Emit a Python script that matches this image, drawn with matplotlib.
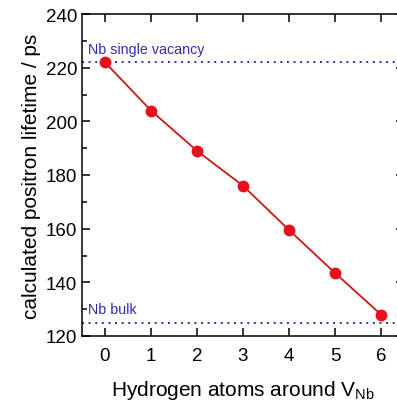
import matplotlib
matplotlib.use("Agg")
import matplotlib.pyplot as plt
from matplotlib.ticker import MultipleLocator

plt.rcParams['font.family'] = ['Liberation Sans', 'DejaVu Sans']

n_hydrogen = [0, 1, 2, 3, 4, 5, 6]
lifetime = [222, 204, 189, 176, 159.5, 143.5, 128]
vacancy_level = 222
bulk_level = 125
vacancy_label = "Nb single vacancy"
bulk_label = "Nb bulk"

fig = plt.figure(figsize=(3.97, 4.02), dpi=100)
W, H = 397, 402
ax = fig.add_axes([82 / W, 1 - 337 / H, (404 - 82) / W, (337 - 15) / H])

blue = '#2f2fa8'
ax.axhline(vacancy_level, color=blue, linestyle=(0, (1, 2.4)), lw=1.4)
ax.axhline(bulk_level, color=blue, linestyle=(0, (1, 2.4)), lw=1.4)
ax.plot(n_hydrogen, lifetime, color='#c81818', lw=1.3, marker='o', ms=7.5,
        markerfacecolor='#e8101a', markeredgecolor='#e8101a')

ax.text(-0.36, vacancy_level + 2.4, vacancy_label, color=blue, fontsize=10.3, va='bottom')
ax.text(-0.36, bulk_level + 2.4, bulk_label, color=blue, fontsize=10.3, va='bottom')

ax.set_xlim(-0.5, 6.5)
ax.set_ylim(120, 240)
ax.set_xticks(n_hydrogen)
ax.yaxis.set_major_locator(MultipleLocator(20))
ax.yaxis.set_minor_locator(MultipleLocator(10))
ax.tick_params(which='both', direction='in', top=True, right=True, labelsize=13.5, width=1.1)
ax.tick_params(which='major', length=6)
ax.tick_params(which='minor', length=3.5)
ax.tick_params(axis='x', pad=8)
for s in ax.spines.values():
    s.set_linewidth(1.1)

ax.set_ylabel("calculated positron lifetime / ps", fontsize=15, labelpad=3)
ax.set_xlabel("Hydrogen atoms around V$_{\\mathregular{Nb}}$", fontsize=15, labelpad=10)

fig.savefig("out.png", dpi=100)
